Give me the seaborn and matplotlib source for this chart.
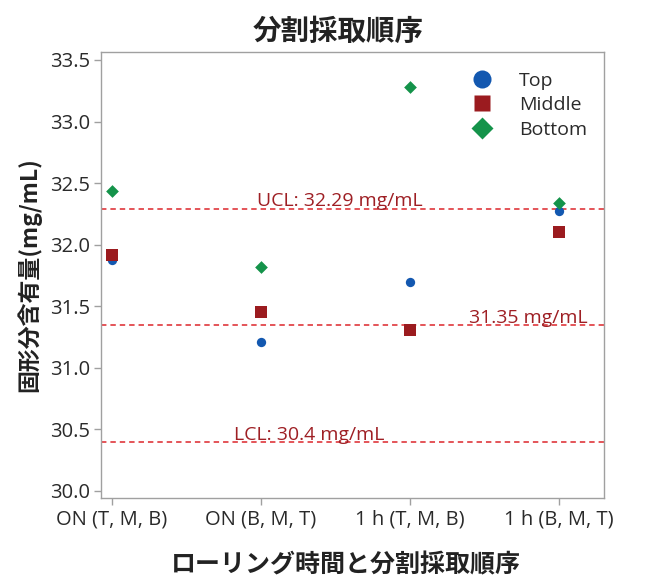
import matplotlib
matplotlib.use("Agg")
import matplotlib.pyplot as plt
import seaborn as sns
import pandas as pd
from matplotlib.lines import Line2D

# Sampling order categories and measured solids content per layer
orders = ["ON (T, M, B)", "ON (B, M, T)", "1 h (T, M, B)", "1 h (B, M, T)"]
top_vals = [31.875, 31.21, 31.70, 32.27]
middle_vals = [31.915, 31.45, 31.31, 32.105]
bottom_vals = [32.435, 31.82, 33.28, 32.34]
layers = ["Top", "Middle", "Bottom"]

ucl = 32.29
center = 31.35
lcl = 30.4
yticks = [30.0, 30.5, 31.0, 31.5, 32.0, 32.5, 33.0, 33.5]

colors = {"Top": "#1358b0", "Middle": "#9b1b1f", "Bottom": "#14934a"}
markers = {"Top": "o", "Middle": "s", "Bottom": "D"}
sizes = {"Top": 45, "Middle": 75, "Bottom": 42}

rows = []
for layer, vals in zip(layers, [top_vals, middle_vals, bottom_vals]):
    for o, v in zip(orders, vals):
        rows.append({"order": o, "value": v, "layer": layer})
df = pd.DataFrame(rows)

sns.set_theme(style="white")
plt.rcParams["font.family"] = ["Open Sans", "Noto Sans CJK JP", "DejaVu Sans"]
cjk = ["Noto Sans CJK JP", "DejaVu Sans"]

fig = plt.figure(figsize=(6.49, 5.77), dpi=100)
ax = fig.add_axes([0.1556, 0.1369, 0.7751, 0.7730])

for layer in layers:
    sub = df[df["layer"] == layer]
    sns.scatterplot(data=sub, x="order", y="value", ax=ax, color=colors[layer],
                    marker=markers[layer], s=sizes[layer], linewidth=0, legend=False,
                    zorder=3)

line_kw = dict(color="#e2474b", linestyle=(0, (3, 2.2)), linewidth=1.3, zorder=1)
ax.axhline(ucl, **line_kw)
ax.axhline(center, **line_kw)
ax.axhline(lcl, **line_kw)

txt_kw = dict(color="#9e1f24", fontsize=14, ha="center", va="baseline")
ax.text(1.53, ucl + 0.024, f"UCL: {ucl:.2f} mg/mL", **txt_kw)
ax.text(2.79, center + 0.014, f"{center:.2f} mg/mL", **txt_kw)
ax.text(1.32, lcl + 0.014, f"LCL: {lcl:.1f} mg/mL", **txt_kw)

ax.set_xlim(-0.074, 3.30)
ax.set_ylim(29.943, 33.565)
ax.set_yticks(yticks)
ax.set_yticklabels([f"{t:.1f}" for t in yticks])
ax.set_xticks(range(len(orders)))
ax.set_xticklabels(orders)

for sp in ax.spines.values():
    sp.set_color("#a0a0a0")
    sp.set_linewidth(1.0)
ax.tick_params(axis="both", which="major", direction="out", length=5, width=1,
               color="#a0a0a0", labelsize=14.5, labelcolor="#2a2a2a", pad=3)
ax.tick_params(axis="x", bottom=True)
ax.tick_params(axis="y", left=True)

ax.set_xlabel("ローリング時間と分割採取順序", fontsize=18, fontweight="bold",
              family=cjk, color="#222222")
ax.xaxis.set_label_coords(0.486, -0.150, transform=ax.transAxes)
ax.xaxis.label.set_va("center")
ax.set_ylabel("固形分含有量(mg/mL)", fontsize=16.5, fontweight="bold",
              family=cjk, labelpad=6, color="#222222")
ax.set_title("分割採取順序", fontsize=20.5, fontweight="bold", family=cjk,
             pad=9, color="#222222", x=0.472)

handles = [Line2D([0], [0], marker=markers[l], color="none", markerfacecolor=colors[l],
                  markeredgecolor="none", markersize={"Top": 13, "Middle": 11.5, "Bottom": 11}[l],
                  label=l) for l in layers]
ax.legend(handles=handles, loc="upper left", bbox_to_anchor=(0.70, 0.995), frameon=False,
          fontsize=14, handletextpad=1.3, labelspacing=0.33, handlelength=1.2,
          labelcolor="#2a2a2a")

ax.grid(False)
fig.savefig("out.png", dpi=100)
